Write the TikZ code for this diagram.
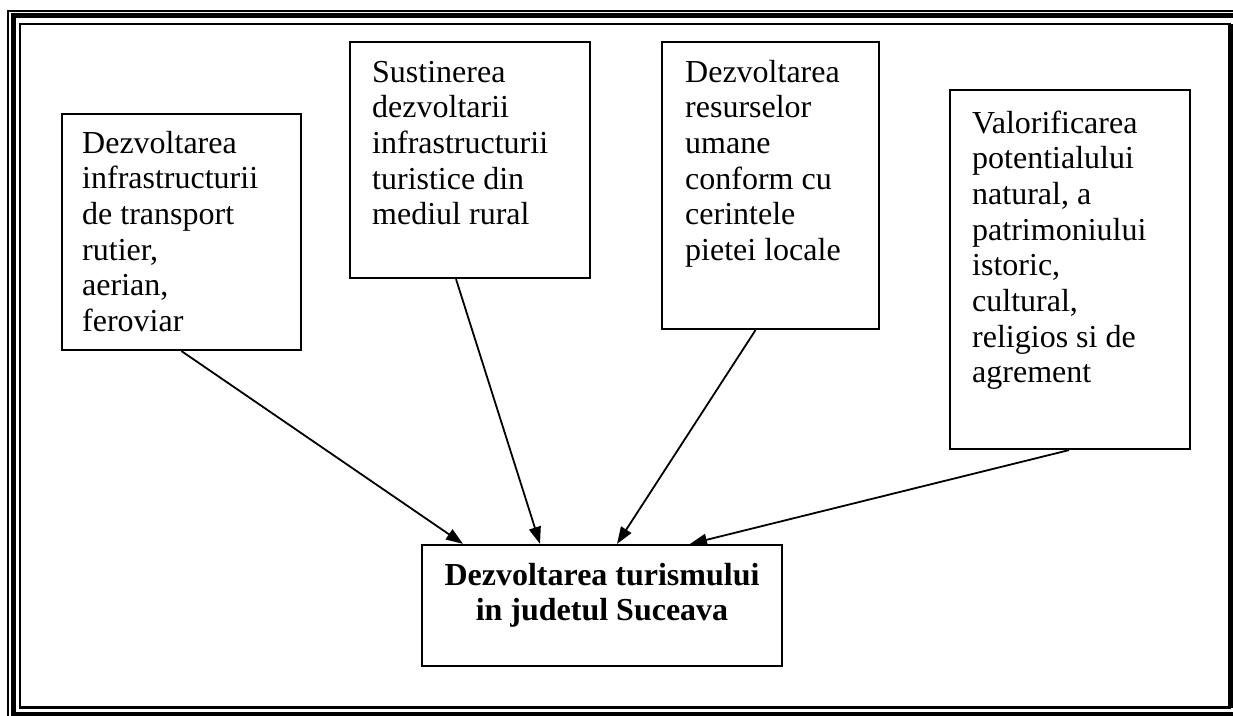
\documentclass[tikz,border=0pt]{standalone}
\usepackage{fontspec}
\setmainfont{Liberation Serif}
\usetikzlibrary{arrows.meta,calc}
\begin{document}
\begin{tikzpicture}[x=1pt,y=-1pt,
  boxst/.style={draw, line width=2.2pt, inner sep=0pt, fill=white},
  txt/.style={anchor=base west, inner sep=0pt, font=\fontsize{32}{35.7}\selectfont},
  conn/.style={line width=1.8pt, -{Triangle[length=17pt,width=12pt]}}]
\useasboundingbox (0,0) rectangle (1233,715);
\clip (0,0) rectangle (1233,715);
% page frame
\draw[line width=2pt] (7.5,10.5) rectangle (1250,730);
\draw[line width=5pt] (13.5,15.5) rectangle (1240,714.5);
\draw[line width=2.5pt] (20,24) rectangle (1230,707.5);
\draw[line width=5pt] (1230.5,24) -- (1230.5,707.5);
% boxes
\node[boxst, minimum width=239pt, minimum height=236pt] (b1) at (181.5,232) {};
\node[boxst, minimum width=240pt, minimum height=236pt] (b2) at (470,160) {};
\node[boxst, minimum width=217pt, minimum height=287pt] (b3) at (770.5,185.5) {};
\node[boxst, minimum width=240pt, minimum height=359pt] (b4) at (1070,269.5) {};
\node[boxst, minimum width=360pt, minimum height=121pt] (bc) at (602,605.5) {};
% texts
\node[txt] (t1) at (82,153) {\parbox[t]{220pt}{\raggedright Dezvoltarea\\ infrastructurii\\ de transport\\ rutier,\\ aerian,\\ feroviar}};
\node[txt] (t2) at (372,82) {\parbox[t]{215pt}{\raggedright Sustinerea\\ dezvoltarii\\ infrastructurii\\ turistice din\\ mediul rural}};
\node[txt] (t3) at (685,82) {\parbox[t]{190pt}{\raggedright Dezvoltarea\\ resurselor\\ umane\\ conform cu\\ cerintele\\ pietei locale}};
\node[txt] (t4) at (972,133) {\parbox[t]{215pt}{\raggedright Valorificarea\\ potentialului\\ natural, a\\ patrimoniului\\ istoric,\\ cultural,\\ religios si de\\ agrement}};
\node[txt, anchor=base, font=\fontsize{32}{35.7}\selectfont\bfseries] (tc) at (602,585) {\parbox[t]{360pt}{\centering Dezvoltarea turismului\\ in judetul Suceava}};
% connectors
\draw[conn] (b1.south) -- ([xshift=-139pt]bc.north);
\draw[conn] ([xshift=-14pt]b2.south) -- ([xshift=-62pt]bc.north);
\draw[conn] ([xshift=-15pt]b3.south) -- ([xshift=15pt]bc.north);
\draw[conn] ([xshift=-1pt]b4.south) -- ([xshift=88pt]bc.north);
\end{tikzpicture}
\end{document}
